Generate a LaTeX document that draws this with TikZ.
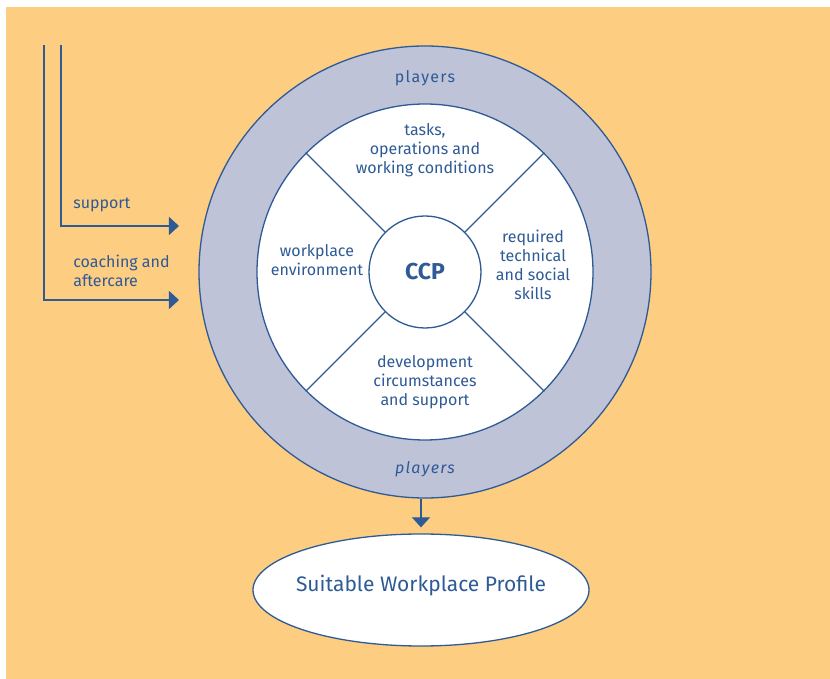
\documentclass[tikz,border=0pt]{standalone}
\usepackage{fontspec}
\setmainfont{Fira Sans}
\newfontfamily\spacedfont[LetterSpace=8]{Fira Sans}
\usetikzlibrary{arrows.meta, positioning, shapes.geometric}
\definecolor{pOrange}{HTML}{FDCD81}
\definecolor{pLilac}{HTML}{BFC3D8}
\definecolor{pBlue}{HTML}{2E5A96}
\tikzset{
  label/.style={text=pBlue, align=center, font=\fontsize{8}{9.5}\selectfont},
  disc/.style={circle, draw=pBlue, inner sep=0pt},
  flow/.style={draw=pBlue, -{Triangle[width=9pt, length=5pt]}}
}

\begin{document}
\begin{tikzpicture}[x=0.5pt, y=0.5pt, line width=0.65pt]
  \useasboundingbox (-425,-407) rectangle (405,272);
  \fill[pOrange] (-419,-407) rectangle (405,265);

  % rings
  \node[disc, fill=pLilac, minimum size=226pt] (ring) at (0,0) {};
  \node[disc, fill=white, minimum size=168pt] (inner) at (0,0) {};
  \node[disc, fill=white, minimum size=56pt, text=pBlue,
        font=\fontsize{11.5}{13}\selectfont\bfseries] (hub) at (0,0) {CCP};
  \foreach \a in {45,135,225,315}
    \draw[pBlue] (hub.\a) -- (inner.\a);

  \node[label, font=\fontsize{8}{9.5}\spacedfont] (playersTop) at (0,194) {players};
  \node[label, font=\fontsize{8}{9.5}\spacedfont\itshape] (playersBot) at (0,-197) {players};

  \node[label] (tasks) at (0,122) {tasks,\\operations and\\working conditions};
  \node[label] (skills) at (108,7) {required\\technical\\and social\\skills};
  \node[label] (environ) at (-108,12) {workplace\\environment};
  \node[label] (develop) at (0,-110) {development\\circumstances\\and support};

  % result
  \node[ellipse, draw=pBlue, fill=white, minimum width=168pt, minimum height=56pt,
        inner sep=0pt] (profile) at (-4,-318) {};
  \node[label, font=\fontsize{10.5}{13}\selectfont] (profileText) at ([yshift=2pt]profile.center)
        {Suitable Workplace Profile};
  \draw[flow] (ring.south -| profile.north) -- ([yshift=3pt]profile.north);

  % inputs from the left
  \coordinate (supTop) at (-364,227);
  \coordinate (supEnd) at (-246,46);
  \coordinate (coachTop) at (-381,227);
  \coordinate (coachEnd) at (-246,-28);
  \draw[flow] (supTop) |- (supEnd);
  \draw[flow] (coachTop) |- (coachEnd);
  \node[label, anchor=west, align=left] (support) at (-359,67) {support};
  \node[label, anchor=west, align=left] (coaching) at (-359,1) {coaching and\\aftercare};
\end{tikzpicture}
\end{document}
